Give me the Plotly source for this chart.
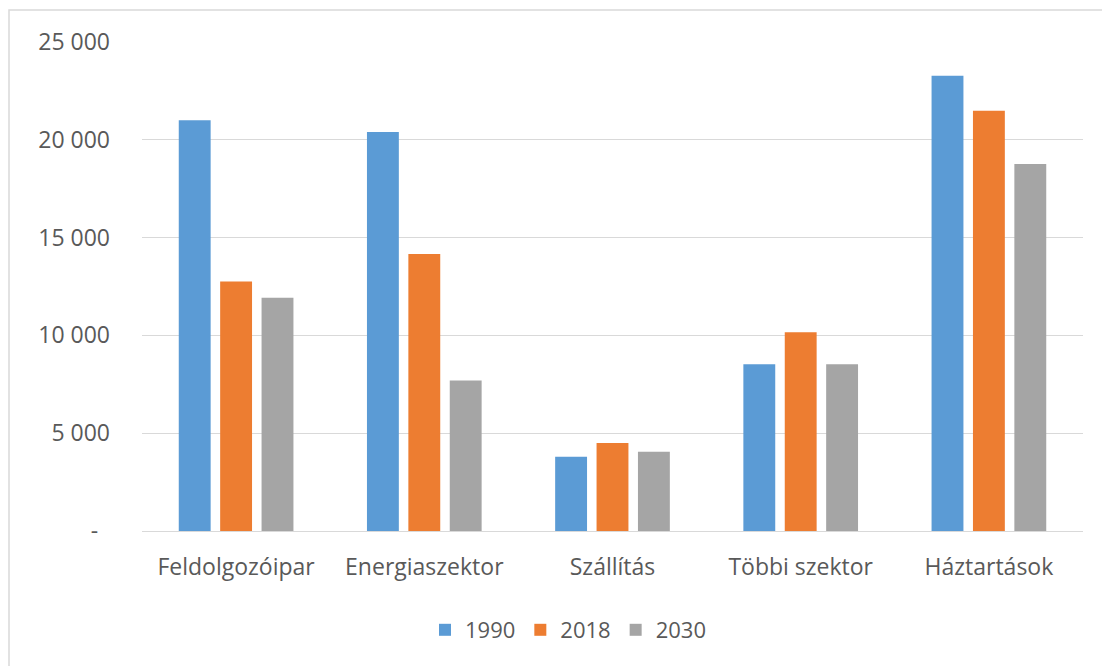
import plotly.graph_objects as go

categories = ["Feldolgozóipar", "Energiaszektor", "Szállítás", "Többi szektor", "Háztartások"]
series_names = ["1990", "2018", "2030"]
values_1990 = [21000, 20400, 3800, 8520, 23280]
values_2018 = [12750, 14160, 4500, 10160, 21490]
values_2030 = [11930, 7700, 4050, 8520, 18760]
colors = ["#5B9BD5", "#ED7D31", "#A5A5A5"]
tick_vals = [0, 5000, 10000, 15000, 20000, 25000]
tick_text = ["-\u00a0\u00a0", "5 000", "10 000", "15 000", "20 000", "25 000"]

font_family = "'Open Sans', Lato, sans-serif"
text_color = "#595959"

fig = go.Figure()
for name, vals, col in zip(series_names, [values_1990, values_2018, values_2030], colors):
    fig.add_trace(go.Bar(
        x=categories, y=vals, name=name,
        marker=dict(color=col, line=dict(width=0)),
    ))

fig.update_layout(
    width=1102, height=666,
    margin=dict(l=142, r=19, t=42, b=135),
    paper_bgcolor="white", plot_bgcolor="white",
    barmode="group", bargap=0.34, bargroupgap=0.23,
    font=dict(family=font_family, size=22, color=text_color),
    showlegend=True,
    legend=dict(
        orientation="h", xref="container", yref="container",
        x=568 / 1102, xanchor="center", y=1 - 630 / 666, yanchor="middle",
        font=dict(size=22, color=text_color),
        itemwidth=30, tracegroupgap=0,
    ),
    xaxis=dict(
        showgrid=False, showline=True, linecolor="#D9D9D9", linewidth=1,
        ticks="", tickfont=dict(size=23, color=text_color),
        ticklabelstandoff=15,
    ),
    yaxis=dict(
        range=[0, 25000], tickvals=tick_vals, ticktext=tick_text,
        showgrid=True, gridcolor="#D9D9D9", gridwidth=1,
        zeroline=False, showline=False, ticks="",
        tickfont=dict(size=23, color=text_color),
        ticklabelstandoff=31,
    ),
    shapes=[dict(
        type="rect", xref="paper", yref="paper",
        x0=-133 / 941, x1=1.2, y0=-0.5, y1=1 + 32 / 489,
        line=dict(color="#D9D9D9", width=1.5), fillcolor="rgba(0,0,0,0)",
        layer="below",
    )],
)

fig.write_html("out.html")
